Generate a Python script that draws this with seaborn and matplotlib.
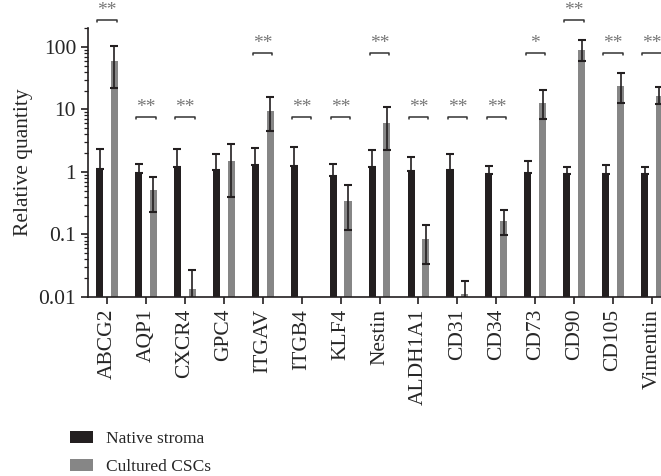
import numpy as np
import pandas as pd
import matplotlib
matplotlib.use('Agg')
import matplotlib.pyplot as plt
import seaborn as sns

# gene panel and relative quantities
genes = ['ABCG2', 'AQP1', 'CXCR4', 'GPC4', 'ITGAV', 'ITGB4', 'KLF4', 'Nestin',
         'ALDH1A1', 'CD31', 'CD34', 'CD73', 'CD90', 'CD105', 'Vimentin']
native = [1.13, 0.98, 1.2, 1.09, 1.28, 1.25, 0.85, 1.2, 1.04, 1.09, 0.94, 0.98, 0.94, 0.94, 0.94]
native_hi = [2.33, 1.36, 2.33, 1.94, 2.46, 2.55, 1.36, 2.25, 1.74, 1.92, 1.25, 1.5, 1.2, 1.27, 1.2]
cultured = [59.7, 0.51, 0.0134, 1.52, 9.46, np.nan, 0.34, 6.17, 0.084, 0.0113, 0.164, 12.7, 88.5, 23.5, 16.4]
cultured_lo = [22.4, 0.23, 0.005, 0.40, 4.53, np.nan, 0.117, 2.25, 0.034, 0.005, 0.097, 7.15, 59.7, 12.9, 12.1]
cultured_hi = [104, 0.83, 0.0267, 2.85, 15.7, np.nan, 0.63, 11.0, 0.144, 0.018, 0.25, 20.5, 129, 38.4, 23.2]
sig = ['**', '**', '**', '', '**', '**', '**', '**', '**', '**', '**', '*', '**', '**', '**']
sig_y = [270, 7.6, 7.6, np.nan, 81, 7.6, 7.6, 81, 7.6, 7.6, 7.6, 81, 270, 81, 81]

groups = ['Native stroma', 'Cultured CSCs']
colors = ['#231f20', '#868686']

df = pd.DataFrame({
    'gene': genes * 2,
    'group': [groups[0]] * len(genes) + [groups[1]] * len(genes),
    'value': native + cultured,
})

sns.set_style('ticks')
plt.rcParams['font.family'] = ['Liberation Serif', 'DejaVu Serif']
plt.rcParams['font.size'] = 15.5

fig = plt.figure(figsize=(6.61, 4.76), dpi=100)
ax = fig.add_axes([0.133, 0.376, 0.867, 0.565])

sns.barplot(data=df, x='gene', y='value', hue='group', order=genes, hue_order=groups,
            palette=colors, width=0.76, gap=0.52, errorbar=None, saturation=1,
            linewidth=0, ax=ax)
ax.set_yscale('log')
ax.set_ylim(0.01, 200)
ax.set_xlim(-0.49, 14.23)

x = np.arange(len(genes))
off = 0.19
nat = np.array(native)
ax.errorbar(x - off, nat, yerr=[np.zeros(len(genes)), np.array(native_hi) - nat],
            fmt='none', ecolor='#231f20', elinewidth=1.2, capsize=3, capthick=1.5, clip_on=False)
cul = np.array(cultured)
ax.errorbar(x + off, cul, yerr=[cul - np.array(cultured_lo), np.array(cultured_hi) - cul],
            fmt='none', ecolor='#231f20', elinewidth=1.2, capsize=3, capthick=1.5)

# significance brackets
for i, (s, yv) in enumerate(zip(sig, sig_y)):
    if not s:
        continue
    x0, x1 = i - 0.25, i + 0.25
    ydrop = yv / 1.08
    ax.plot([x0, x0, x1, x1], [ydrop, yv, yv, ydrop], color='#333333', lw=1.1,
            clip_on=False)
    ax.text(i, yv * 1.02, s, ha='center', va='bottom', fontsize=14, color='#777777',
            clip_on=False)

ax.set_yticks([0.01, 0.1, 1, 10, 100])
ax.set_yticklabels(['0.01', '0.1', '1', '10', '100'])
ax.set_xticks(x)
ax.set_xticklabels(genes, rotation=90)
ax.tick_params(axis='both', which='major', length=5, width=1.2, direction='out',
               color='#231f20', labelsize=15.5)
ax.tick_params(axis='y', which='minor', length=3, width=0.9, color='#231f20')
ax.set_xlabel('')
ax.set_ylabel('Relative quantity', fontsize=15.5)
for sp in ['top', 'right']:
    ax.spines[sp].set_visible(False)
for sp in ['left', 'bottom']:
    ax.spines[sp].set_linewidth(1.2)
    ax.spines[sp].set_color('#231f20')

handles, labels = ax.get_legend_handles_labels()
ax.legend(handles, labels, loc='upper left', bbox_to_anchor=(0.106, 0.094),
          bbox_transform=fig.transFigure, frameon=False, borderpad=0,
          borderaxespad=0, handlelength=1.3, handleheight=0.7,
          handletextpad=0.75, labelspacing=0.65, fontsize=12.5)

fig.savefig('out.png', dpi=100)
